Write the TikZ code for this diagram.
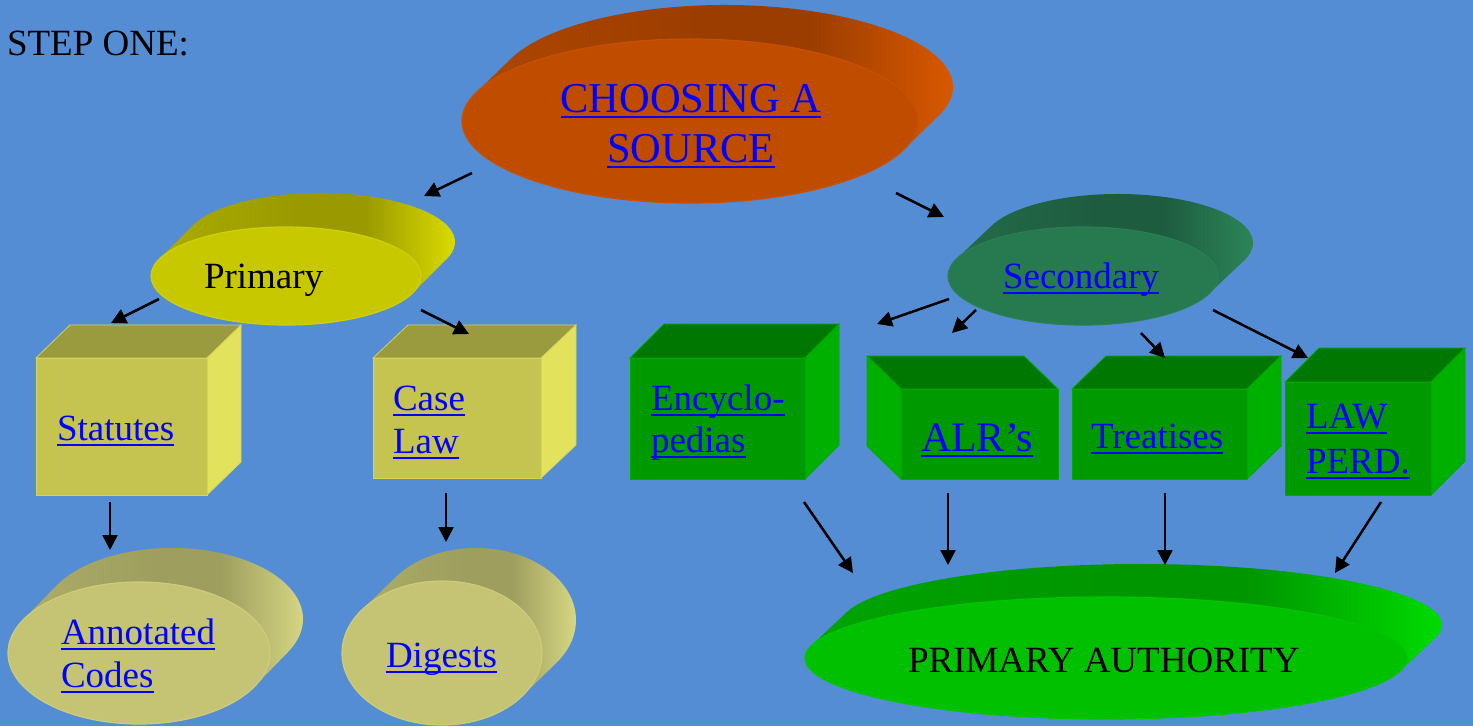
\documentclass[tikz,border=0pt]{standalone}
\usepackage{fontspec}
\setmainfont{Liberation Serif}
\usetikzlibrary{shapes.geometric,arrows.meta,calc}
\definecolor{bg}{RGB}{84,141,212}
\definecolor{linkblue}{RGB}{0,0,255}
% cylinders: F front, E rim, L/M/R side shading
\definecolor{orgF}{HTML}{C04C00}\definecolor{orgE}{HTML}{C65200}\definecolor{orgL}{HTML}{AE4600}\definecolor{orgM}{HTML}{9C3D00}\definecolor{orgR}{HTML}{E05C00}
\definecolor{yelF}{HTML}{C8C800}\definecolor{yelE}{HTML}{D0D000}\definecolor{yelL}{HTML}{ABAB00}\definecolor{yelM}{HTML}{9A9A00}\definecolor{yelR}{HTML}{E2E200}
\definecolor{secF}{HTML}{27794F}\definecolor{secE}{HTML}{2A7F54}\definecolor{secL}{HTML}{236B48}\definecolor{secM}{HTML}{1E5C40}\definecolor{secR}{HTML}{2E8A5C}
\definecolor{palF}{HTML}{C4C474}\definecolor{palE}{HTML}{CCCC7A}\definecolor{palL}{HTML}{ADAD68}\definecolor{palM}{HTML}{9E9E5E}\definecolor{palR}{HTML}{DEDE88}
\definecolor{paF}{HTML}{00C000}\definecolor{paE}{HTML}{00C600}\definecolor{paL}{HTML}{00A400}\definecolor{paM}{HTML}{009600}\definecolor{paR}{HTML}{00E000}
% boxes: F front, T top, S side, E edge
\definecolor{byF}{HTML}{C6C450}\definecolor{byT}{HTML}{9A9A3E}\definecolor{byS}{HTML}{E2E25C}\definecolor{byE}{HTML}{D4D45A}
\definecolor{bgF}{HTML}{009A00}\definecolor{bgT}{HTML}{007700}\definecolor{bgS}{HTML}{00B000}\definecolor{bgE}{HTML}{00A800}
\newcommand\declshade[1]{\pgfdeclarehorizontalshading{#1sh}{100bp}{color(0bp)=(#1L); color(25bp)=(#1L); color(47bp)=(#1M); color(58bp)=(#1M); color(74bp)=(#1R); color(100bp)=(#1R)}}
\declshade{org}\declshade{yel}\declshade{sec}\declshade{pal}\declshade{pa}
\newcommand\myul[1]{\setbox0\hbox{#1}\rlap{\rule[-6pt]{\wd0}{2.4pt}}\box0}
\newcommand\twoline[3]{\vtop{\baselineskip=#3pt\hbox{#1}\hbox{#2}}}
\newcommand\twolinec[3]{\vtop{\baselineskip=#3pt\halign{\hfil##\hfil\cr#1\cr#2\cr}}}
% cylinder: name, cx, cy, rx, ry, dx, dy, colour prefix
\newcommand\mycyl[8]{%
  \pgfmathsetmacro\tz{atan(-(#5)*(#6)/((#4)*(#7)))}%
  \shade[shading=#8sh]
    ($(#2,#3)+({(#4)*cos(\tz)},{(#5)*sin(\tz)})$) -- ++(#6,#7)
    arc[start angle=\tz, end angle=\tz-180, x radius=#4, y radius=#5]
    -- ++({-(#6)},{-(#7)}) -- cycle;
  \node[cylface, minimum width={2*(#4)*1pt}, minimum height={2*(#5)*1pt}, fill=#8F, draw=#8E] (#1) at (#2,#3) {};
}
% box: name, x1, y1, x2, y2, dx, dy, colour prefix
\newcommand\mybox[8]{%
  \fill[#8T, draw=#8E, line width=0.8pt] (#2,#3) -- (#4,#3) -- ++(#6,#7) -- ({#2+(#6)},{#3+(#7)}) -- cycle;
  \ifdim #6pt>0pt
    \fill[#8S, draw=#8E, line width=0.8pt] (#4,#3) -- ++(#6,#7) -- ({#4+(#6)},{#5+(#7)}) -- (#4,#5) -- cycle;
  \else
    \fill[#8S, draw=#8E, line width=0.8pt] (#2,#3) -- ++(#6,#7) -- ({#2+(#6)},{#5+(#7)}) -- (#2,#5) -- cycle;
  \fi
  \node[boxface, minimum width={(#4-#2)*1pt}, minimum height={(#5-#3)*1pt}, fill=#8F, draw=#8E] (#1) at ({(#2+#4)/2},{(#3+#5)/2}) {};
}
\tikzset{
  cylface/.style={ellipse, inner sep=0pt, outer sep=0pt, line width=1.2pt},
  boxface/.style={rectangle, inner sep=0pt, outer sep=0pt, line width=0.8pt},
  txt/.style={inner sep=0pt, outer sep=0pt, font=\fontsize{37}{43}\selectfont, text=black},
  link/.style={txt, text=linkblue},
  arr/.style={line width=2.5pt, -{Triangle[length=15pt,width=15pt]}}
}
\begin{document}
\begin{tikzpicture}[x=1pt,y=-1pt]
\useasboundingbox (0,0) rectangle (1473,726);
\fill[bg] (0,0) rectangle (1473,726);

\node[txt, anchor=base west] (stepone) at (7,55) {STEP ONE:};

% cylinders
\mycyl{choose}{690}{121}{228}{82}{35}{-34}{org}
\mycyl{primary}{286}{276}{135}{49}{34}{-34}{yel}
\mycyl{secondary}{1083}{276}{135}{49}{35}{-33}{sec}
\mycyl{annot}{139}{653}{131}{71}{33}{-34}{pal}
\mycyl{digests}{442}{653}{100}{72}{34}{-33}{pal}
\mycyl{pa}{1106}{658}{301}{61}{35}{-33}{pa}

% boxes
\mybox{statutes}{36}{358}{207}{495}{34}{-33}{by}
\mybox{caselaw}{373}{358}{541}{478}{35}{-33}{by}
\mybox{encyc}{630}{358}{805}{479}{34}{-34}{bg}
\mybox{alr}{901}{389}{1058}{479}{-34}{-33}{bg}
\mybox{treat}{1072}{389}{1247}{479}{34}{-33}{bg}
\mybox{lawp}{1285}{382}{1431}{495}{34}{-34}{bg}

% texts
\node[link, anchor=base, font=\fontsize{42.5}{50}\selectfont] (tchoose) at (691,112) {\twolinec{\myul{CHOOSING A}}{\myul{SOURCE}}{50}};
\node[txt, anchor=base west] (tprimary) at (204,288) {Primary};
\node[link, anchor=base west] (tsecondary) at (1003,288) {\myul{Secondary}};
\node[link, anchor=base west] (tstatutes) at (57,440) {\myul{Statutes}};
\node[link, anchor=base west] (tcaselaw) at (393,410) {\twoline{\myul{Case}}{\myul{Law}}{43}};
\node[link, anchor=base west] (tencyc) at (651,410) {\twoline{\myul{Encyclo-}}{\myul{pedias}}{42}};
\node[link, anchor=base west, font=\fontsize{42}{48}\selectfont] (talr) at (921,451) {\myul{ALR’s}};
\node[link, anchor=base west] (ttreat) at (1091,448) {\myul{Treatises}};
\node[link, anchor=base west] (tlawp) at (1306,428) {\twoline{\myul{LAW}}{\myul{PERD.}}{45}};
\node[link, anchor=base west] (tannot) at (61,644) {\twoline{\myul{Annotated}}{\myul{Codes}}{43}};
\node[link, anchor=base west] (tdigests) at (386,667) {\myul{Digests}};
\node[txt, anchor=base west] (tpa) at (908,672) {PRIMARY AUTHORITY};

% arrow end points
\coordinate (a1s) at (472,173); \coordinate (a1e) at (424,196);
\coordinate (a2s) at (896,193); \coordinate (a2e) at (944,217);
\coordinate (a3s) at (159,299); \coordinate (a3e) at (111,323);
\coordinate (a4s) at (421,310); \coordinate (a4e) at (469,334);
\coordinate (a5s) at (110,502); \coordinate (a5e) at (110,550);
\coordinate (a6s) at (446,493); \coordinate (a6e) at (446,542);
\coordinate (a7s) at (949,299); \coordinate (a7e) at (877,324);
\coordinate (a8s) at (976,310); \coordinate (a8e) at (952,333);
\coordinate (a9s) at (1141,333); \coordinate (a9e) at (1165,358);
\coordinate (a10s) at (1213,310); \coordinate (a10e) at (1308,358);
\coordinate (a11s) at (804,502); \coordinate (a11e) at (853,573);
\coordinate (a12s) at (948,493); \coordinate (a12e) at (948,565);
\coordinate (a13s) at (1165,493); \coordinate (a13e) at (1165,565);
\coordinate (a14s) at (1381,502); \coordinate (a14e) at (1335,573);

\foreach \i in {1,...,14} { \draw[arr] (a\i s) -- (a\i e); }
\end{tikzpicture}
\end{document}
